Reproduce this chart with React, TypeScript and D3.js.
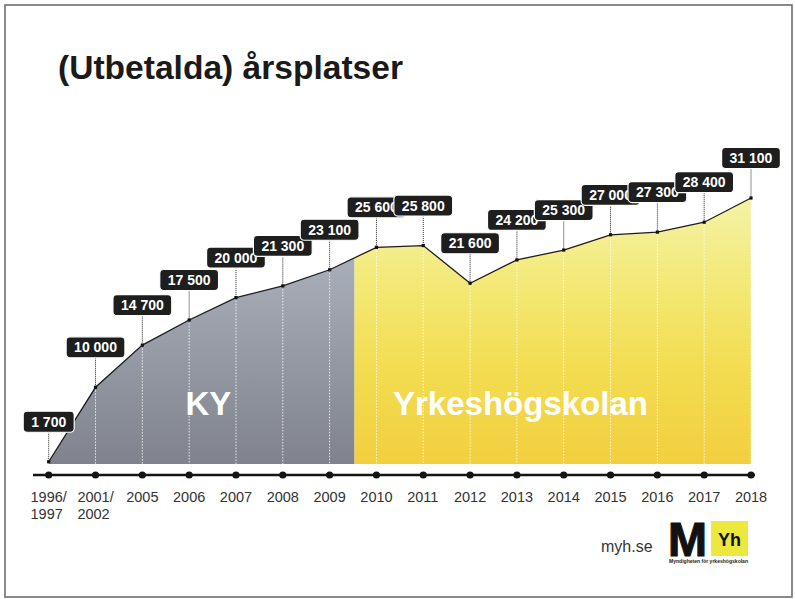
import * as d3 from 'd3';

const years = ['1996/1997', '2001/2002', '2005', '2006', '2007', '2008', '2009', '2010', '2011', '2012', '2013', '2014', '2015', '2016', '2017', '2018'];
const places = [1700, 10000, 14700, 17500, 20000, 21300, 23100, 25600, 25800, 21600, 24200, 25300, 27000, 27300, 28400, 31100];
const lastKyYear = '2009';
const title = '(Utbetalda) årsplatser';

const W = 795;
const H = 599;
const font = '"Liberation Sans", Arial, Helvetica, sans-serif';

const fmt = (v: number) => d3.format(',')(v).replace(/,/g, ' ');
// rough width of digits/space/slash in em
const textW = (s: string, size: number) =>
  s.split('').reduce((acc, c) => acc + (c === ' ' || c === '/' ? 0.278 : 0.556), 0) * size;

const App = () => {
  const x = d3.scalePoint<string>().domain(years).range([48.7, 751]);
  const y = d3.scaleLinear().domain([0, d3.max(places) as number]).range([477, 198]);
  const base = 464;
  const axisY = 475;

  const pts = years.map((yr, i) => ({ yr, v: places[i], x: x(yr) as number, y: y(places[i]) }));

  const area = d3.area<typeof pts[0]>().x((d) => d.x).y0(base).y1((d) => d.y);
  const line = d3.line<typeof pts[0]>().x((d) => d.x).y((d) => d.y);

  const kyIdx = years.indexOf(lastKyYear);
  const split = ((x(years[kyIdx]) as number) + (x(years[kyIdx + 1]) as number)) / 2 + 1.5;

  return (
    <svg width={W} height={H} style={{ position: 'absolute', left: 0, top: 0, background: '#fff' }}>
      <defs>
        <linearGradient id="gray" gradientUnits="userSpaceOnUse" x1="0" x2="0" y1="240" y2={base}>
          <stop offset="0" stopColor="#acb2bd" />
          <stop offset="1" stopColor="#80838d" />
        </linearGradient>
        <linearGradient id="yellow" gradientUnits="userSpaceOnUse" x1="0" x2="0" y1="198" y2={base}>
          <stop offset="0" stopColor="#f4f2a6" />
          <stop offset="0.35" stopColor="#f3e873" />
          <stop offset="0.65" stopColor="#f3dc50" />
          <stop offset="1" stopColor="#f2cf3f" />
        </linearGradient>
        <clipPath id="kyClip">
          <rect x={0} y={0} width={split} height={H} />
        </clipPath>
        <clipPath id="yhClip">
          <rect x={split} y={0} width={W - split} height={H} />
        </clipPath>
      </defs>

      <rect x={5} y={5} width={787} height={592} fill="none" stroke="#6f6f6f" strokeWidth={1.6} />

      <text x={58} y={79} fontFamily={font} fontWeight="bold" fontSize={33} fill="#1a1a1a"
        textLength={345} lengthAdjust="spacingAndGlyphs">
        {title}
      </text>

      <path d={area(pts) ?? ''} fill="url(#gray)" clipPath="url(#kyClip)" />
      <path d={area(pts) ?? ''} fill="url(#yellow)" clipPath="url(#yhClip)" />

      {pts.map((p) => (
        <line key={'g' + p.yr} x1={p.x} x2={p.x} y1={p.y + 3} y2={base} stroke="#fff"
          strokeWidth={1} strokeDasharray="1.5 1.5" opacity={0.85} />
      ))}

      <text x={185.5} y={415} fontFamily={font} fontWeight="bold" fontSize={33} fill="#fff">KY</text>
      <text x={393} y={415} fontFamily={font} fontWeight="bold" fontSize={33} fill="#fff">Yrkeshögskolan</text>

      <path d={line(pts) ?? ''} fill="none" stroke="#1c1c1c" strokeWidth={1.3} />

      {pts.map((p) => {
        const cy = p.y - 40;
        const label = fmt(p.v);
        const w = textW(label, 14) + 16;
        return (
          <g key={'l' + p.yr}>
            <line x1={p.x} x2={p.x} y1={cy + 10.5} y2={p.y} stroke="#222" strokeWidth={1} strokeDasharray="1 1" />
            <rect x={p.x - 1.6} y={p.y - 1.6} width={3.2} height={3.2} fill="#111" />
            <rect x={p.x - w / 2} y={cy - 10.5} width={w} height={21} rx={4} fill="#1e1e1e"
              stroke="#fff" strokeWidth={1.2} />
            <text x={p.x} y={cy + 5} textAnchor="middle" fontFamily={font} fontWeight="bold"
              fontSize={14} fill="#fff">{label}</text>
          </g>
        );
      })}

      <line x1={33} x2={755} y1={axisY} y2={axisY} stroke="#141414" strokeWidth={2.5} />
      {pts.map((p) => (
        <circle key={'d' + p.yr} cx={p.x} cy={axisY} r={3.6} fill="#141414" />
      ))}

      {pts.map((p) => {
        const parts = p.yr.includes('/') ? [p.yr.split('/')[0] + '/', p.yr.split('/')[1]] : [p.yr];
        const left = p.x - textW(parts[0], 14.5) / 2;
        return (
          <text key={'t' + p.yr} fontFamily={font} fontSize={14.5} fill="#333">
            {parts.map((s, i) => (
              <tspan key={i} x={left} y={502 + i * 17}>{s}</tspan>
            ))}
          </text>
        );
      })}

      <text x={601} y={552} fontFamily={font} fontSize={16} fill="#333">myh.se</text>
      <text x={668} y={556} fontFamily={font} fontWeight="bold" fontSize={48} fill="#111"
        stroke="#111" strokeWidth={1.2} textLength={39} lengthAdjust="spacingAndGlyphs">M</text>
      <rect x={711} y={521} width={37} height={35} fill="#ece83d" />
      <text x={729.5} y={546} textAnchor="middle" fontFamily={font} fontWeight="bold" fontSize={18} fill="#111">Yh</text>
      <text x={669} y={563} fontFamily={font} fontWeight="bold" fontSize={5} fill="#222"
        textLength={79} lengthAdjust="spacingAndGlyphs">Myndigheten för yrkeshögskolan</text>
    </svg>
  );
};

export default App;
